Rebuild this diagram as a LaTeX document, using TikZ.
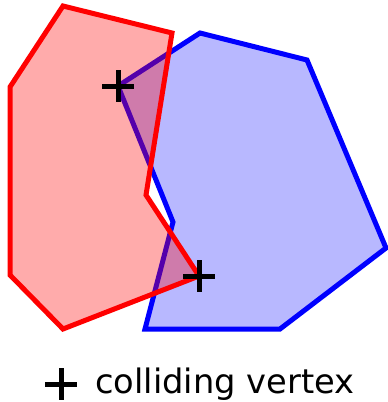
\documentclass[tikz,border=0pt]{standalone}
\usepackage{fontspec}
\setmainfont{DejaVu Sans}
\usepackage{tikz}

\begin{document}
\begin{tikzpicture}[x=1pt,y=-1pt,
  plusmark/.style={inner sep=0pt,minimum size=32pt,
    path picture={\draw[black,line width=5pt]
      (path picture bounding box.north) -- (path picture bounding box.south)
      (path picture bounding box.west) -- (path picture bounding box.east);}}]
  \useasboundingbox (0,0) rectangle (388,402);
  % blue polygon
  \coordinate (b0) at (118,86);
  \coordinate (b1) at (200,33);
  \coordinate (b2) at (307,60);
  \coordinate (b3) at (386,248);
  \coordinate (b4) at (280,329);
  \coordinate (b5) at (145,329);
  \coordinate (b6) at (173,222);
  % red polygon
  \coordinate (r0) at (63,6);
  \coordinate (r1) at (172,33);
  \coordinate (r2) at (146,195);
  \coordinate (r3) at (199,276);
  \coordinate (r4) at (63,329);
  \coordinate (r5) at (10,275);
  \coordinate (r6) at (10,87);
  \draw[blue, fill=blue, fill opacity=0.28, line width=5pt]
    (b0) -- (b1) -- (b2) -- (b3) -- (b4) -- (b5) -- (b6) -- cycle;
  \draw[red, fill=red, fill opacity=0.33, line width=5pt]
    (r0) -- (r1) -- (r2) -- (r3) -- (r4) -- (r5) -- (r6) -- cycle;
  \node[plusmark] (cv1) at (b0) {};
  \node[plusmark] (cv2) at (r3) {};
  % legend
  \node[plusmark] (key) at (61,384) {};
  \node[anchor=base west,inner sep=0pt,font=\fontsize{33.7}{36}\selectfont] (keytext) at (95,393) {colliding vertex};
\end{tikzpicture}
\end{document}
